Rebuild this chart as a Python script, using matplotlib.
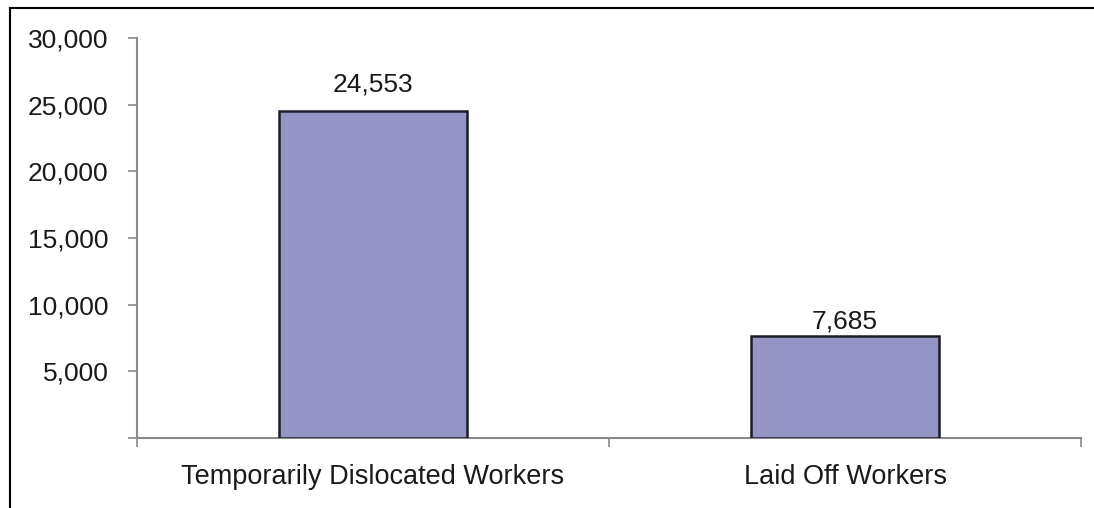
import matplotlib.pyplot as plt
from matplotlib.lines import Line2D
from matplotlib.ticker import FuncFormatter

plt.rcParams['font.family'] = ['Liberation Sans', 'DejaVu Sans']

categories = ['Temporarily Dislocated Workers', 'Laid Off Workers']
values = [24553, 7685]
y_ticks = [0, 5000, 10000, 15000, 20000, 25000, 30000]

W, H = 1094, 508
fig = plt.figure(figsize=(W / 100, H / 100), dpi=100)
fig.patch.set_facecolor('white')

# outer frame (top and left edges only visible)
fig.add_artist(Line2D([10 / W, 1], [1 - 7.5 / H, 1 - 7.5 / H], color='black', lw=1.5))
fig.add_artist(Line2D([10 / W, 10 / W], [0, 1 - 7.5 / H], color='black', lw=1.5))

ax = fig.add_axes([137 / W, 70 / H, 944 / W, 400 / H])
x = list(range(len(categories)))
ax.bar(x, values, width=0.40, color='#9595c5', edgecolor='#1c1c28', linewidth=1.8, zorder=3)

# label offsets (points) differ slightly, as in the original
for xi, v, off in zip(x, values, [10, 1.5]):
    ax.annotate(f'{v:,}', (xi, v), xytext=(0, off), textcoords='offset points',
                ha='center', va='bottom', fontsize=19, color='#1a1a1a')

ax.set_xlim(-0.5, 1.5)
ax.set_ylim(0, 30000)
ax.set_yticks(y_ticks)
ax.yaxis.set_major_formatter(FuncFormatter(lambda v, p: '' if v == 0 else f'{int(v):,}'))
ax.set_xticks(x)
ax.set_xticklabels(categories)
ax.set_xticks([-0.5, 0.5, 1.5], minor=True)

for s in ['top', 'right']:
    ax.spines[s].set_visible(False)
for s in ['left', 'bottom']:
    ax.spines[s].set_color('#8a8a8a')
    ax.spines[s].set_linewidth(1.5)

ax.tick_params(axis='y', direction='out', length=6.5, width=1.2, color='#8a8a8a',
               labelsize=19, labelcolor='#1a1a1a', pad=14)
ax.tick_params(axis='x', which='major', length=0, labelsize=19.5, labelcolor='#1a1a1a', pad=19)
ax.tick_params(axis='x', which='minor', direction='out', length=6.5, width=1.2, color='#8a8a8a')

fig.savefig('out.png', dpi=100, facecolor='white')
